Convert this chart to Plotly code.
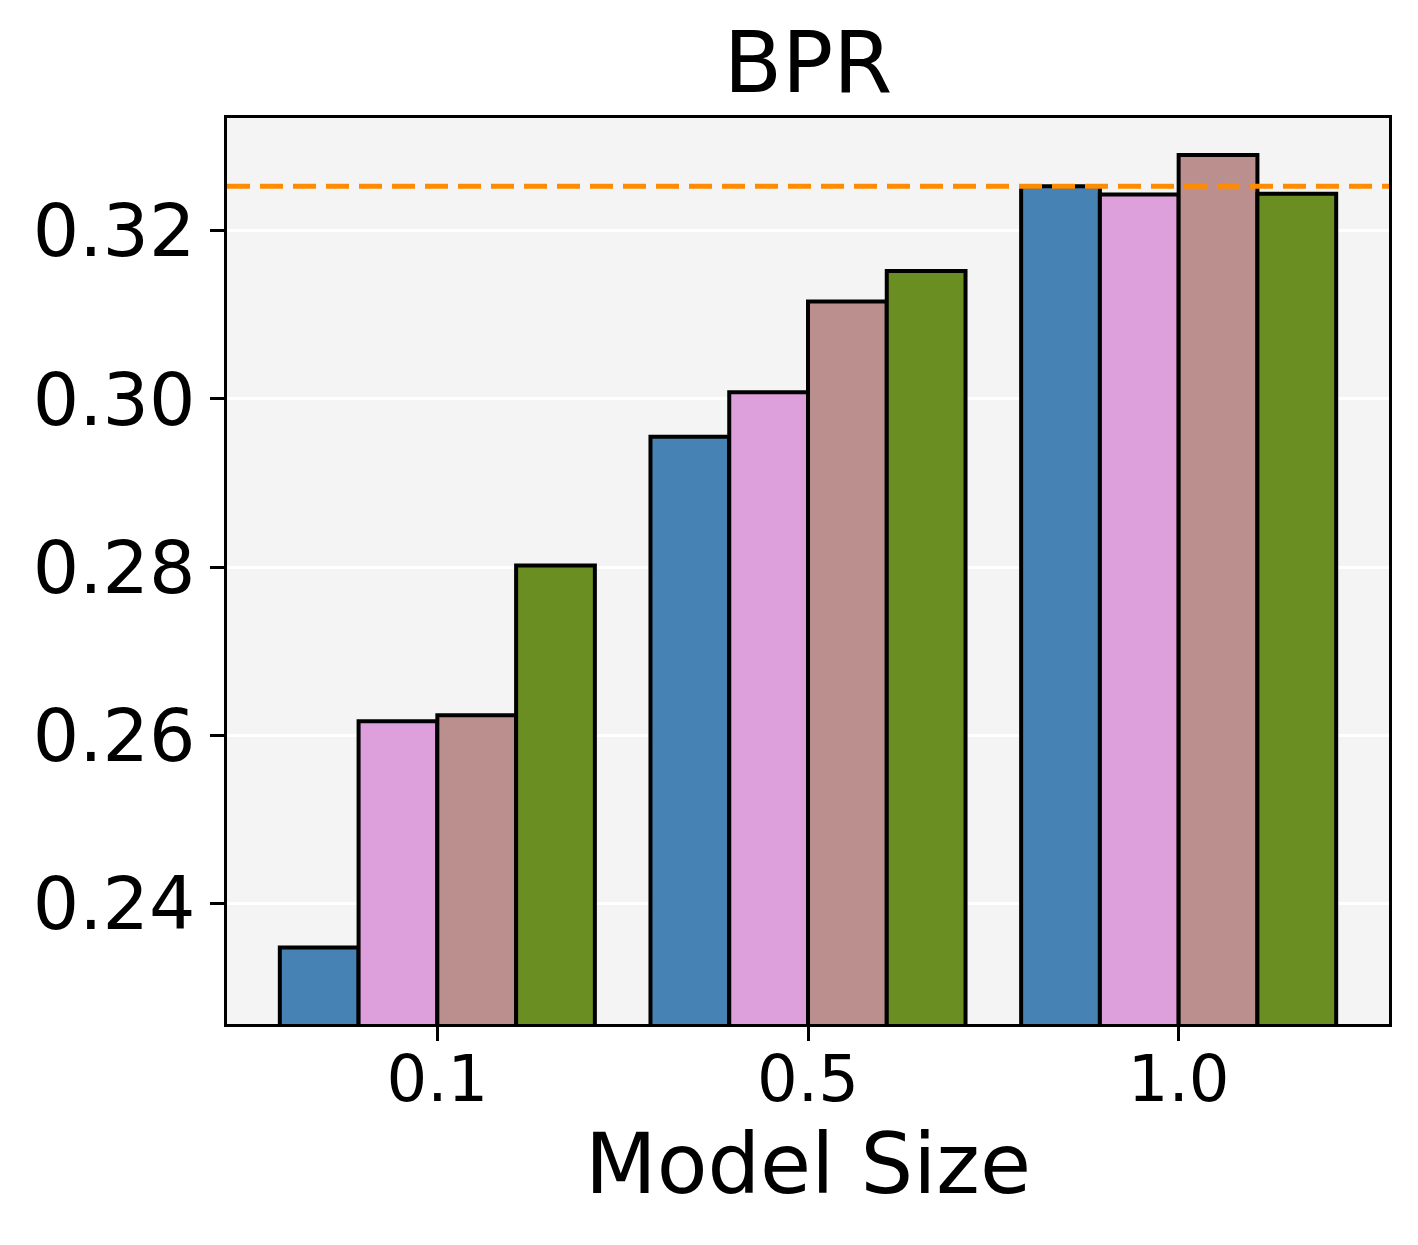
import plotly.graph_objects as go

categories = ["0.1", "0.5", "1.0"]
series_names = ["S1", "S2", "S3", "S4"]
series_values = [
    [0.2348, 0.2955, 0.3253],
    [0.2617, 0.3008, 0.3243],
    [0.2624, 0.3116, 0.3290],
    [0.2802, 0.3152, 0.3244],
]
series_colors = ["#4682B4", "#DDA0DD", "#BC8F8F", "#6B8E23"]
reference_value = 0.3253
y_ticks = [0.24, 0.26, 0.28, 0.30, 0.32]

FONT = "DejaVu Sans"
bar_w = 0.2125
x_pos = list(range(len(categories)))

W, H = 1402, 1229

fig = go.Figure()
for i, (name, vals, col) in enumerate(zip(series_names, series_values, series_colors)):
    fig.add_trace(go.Bar(
        x=x_pos, y=vals, name=name,
        width=bar_w, offset=-2 * bar_w + i * bar_w,
        marker=dict(color=col, line=dict(color="black", width=4)),
        showlegend=False,
    ))

fig.add_shape(type="line", xref="paper", x0=0, x1=1, yref="y",
              y0=reference_value, y1=reference_value,
              line=dict(color="#FF8C00", width=5, dash="23px,10px"), layer="above")

fig.update_layout(
    width=W, height=H,
    margin=dict(l=219, r=21, t=110, b=213),
    paper_bgcolor="white", plot_bgcolor="#F4F4F4",
    barmode="overlay",
    title=dict(text="BPR", x=0.5, xref="paper", xanchor="center",
               y=1 - 24 / H, yanchor="top",
               font=dict(family=FONT, size=85, color="black")),
    font=dict(family=FONT, color="black"),
)
fig.update_xaxes(
    range=[-0.5675, 2.5675], tickmode="array", tickvals=x_pos, ticktext=categories,
    showgrid=False, zeroline=False,
    showline=True, mirror=True, linecolor="black", linewidth=3,
    ticks="outside", ticklen=14, tickwidth=3, tickcolor="black",
    ticklabelstandoff=-17,
    tickfont=dict(family=FONT, size=64, color="black"),
    title=dict(text="Model Size", font=dict(family=FONT, size=83, color="black"), standoff=17),
)
fig.update_yaxes(
    range=[0.2257, 0.3334], tickmode="array", tickvals=y_ticks,
    ticktext=[f"{v:.2f}" for v in y_ticks],
    showgrid=True, gridcolor="white", gridwidth=3, zeroline=False,
    showline=True, mirror=True, linecolor="black", linewidth=3,
    ticks="outside", ticklen=14, tickwidth=3, tickcolor="black",
    tickfont=dict(family=FONT, size=73, color="black"),
)

fig.write_html("out.html")
